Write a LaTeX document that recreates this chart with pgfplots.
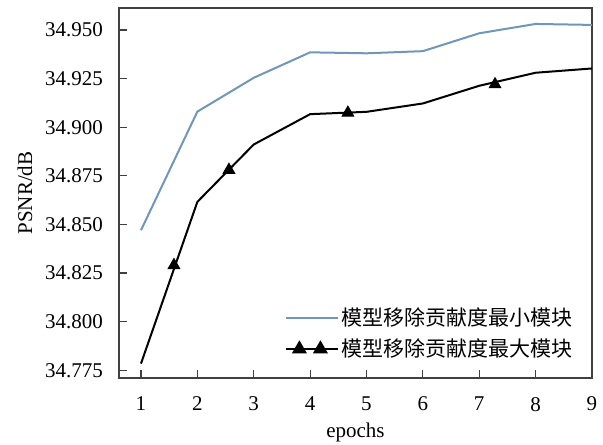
\documentclass[border=0pt]{standalone}
\usepackage{pgfplots}
\pgfplotsset{compat=1.18}
\usepackage{fontspec}
\setmainfont{Liberation Serif}
\newfontfamily\cjk{Noto Sans CJK SC}
\definecolor{lineblue}{RGB}{112,150,184}
\definecolor{boxgray}{RGB}{64,64,64}

\begin{document}
\begin{tikzpicture}
\begin{axis}[
    scale only axis,
    width=236.5pt,
    height=185pt,
    xmin=0.61, xmax=9,
    ymin=34.771, ymax=34.9613,
    xtick={1,...,9},
    ytick={34.775,34.800,34.825,34.850,34.875,34.900,34.925,34.950},
    scaled y ticks=false,
    /pgf/number format/assume math mode=true,
    yticklabel style={/pgf/number format/fixed, /pgf/number format/fixed zerofill,
        /pgf/number format/precision=3, xshift=-4.5pt},
    xticklabel style={yshift=-6pt},
    tick align=inside,
    xtick pos=left, ytick pos=left,
    major tick length=4pt,
    tick style={boxgray, line width=0.6pt},
    axis line style={boxgray, line width=0.8pt},
    every tick label/.append style={font=\fontsize{10.5}{12}\selectfont},
    xlabel={epochs},
    ylabel={PSNR/dB},
    label style={font=\fontsize{10.5}{12}\selectfont},
    xlabel style={at={(axis description cs:0.5,-0.146)}, anchor=center},
    ylabel style={at={(axis description cs:-0.199,0.5)}, anchor=center, rotate=0},
    legend cell align=left,
    legend style={draw=none, fill=none, at={(axis description cs:0.351,0.196)}, anchor=north west,
        inner sep=0pt, row sep=3pt,
        nodes={inner sep=1pt, font=\cjk\fontsize{10.5}{12.5}\selectfont}},
]

% minimum-contribution module removed
\addplot[color=lineblue, line width=1pt,
    legend image code/.code={
        \draw[lineblue, line width=1pt] (0pt,0pt) -- (23.5pt,0pt);
        \path (0pt,0pt) -- (26pt,0pt);}]
coordinates {
    (1, 34.847) (2, 34.908) (3, 34.9254) (4, 34.9385) (5, 34.938)
    (6, 34.9391) (7, 34.9483) (8, 34.9531) (9, 34.9526)
};

% maximum-contribution module removed
\addplot[color=black, line width=1pt,
    legend image code/.code={
        \draw[black, line width=1pt] (0pt,0pt) -- (23.5pt,0pt);
        \path (0pt,0pt) -- (26pt,0pt);
        \path[black, mark=triangle*, mark size=3.4pt] plot coordinates {(6.5pt,0pt) (17pt,0pt)};}]
coordinates {
    (1, 34.7784) (2, 34.8616) (3, 34.8911) (4, 34.9067) (5, 34.9079)
    (6, 34.9122) (7, 34.9213) (8, 34.928) (9, 34.9302)
};

\addplot[only marks, mark=triangle*, mark size=3.4pt, color=black, forget plot]
coordinates {
    (1.585, 34.829) (2.56, 34.878) (4.67, 34.9074) (7.28, 34.922)
};

\legend{模型移除贡献度最小模块, 模型移除贡献度最大模块}
\end{axis}
\pgfresetboundingbox
\path (current axis.south west) ++(-59.5pt,-33pt) rectangle ++(301.5pt,222pt);
\end{tikzpicture}
\end{document}
